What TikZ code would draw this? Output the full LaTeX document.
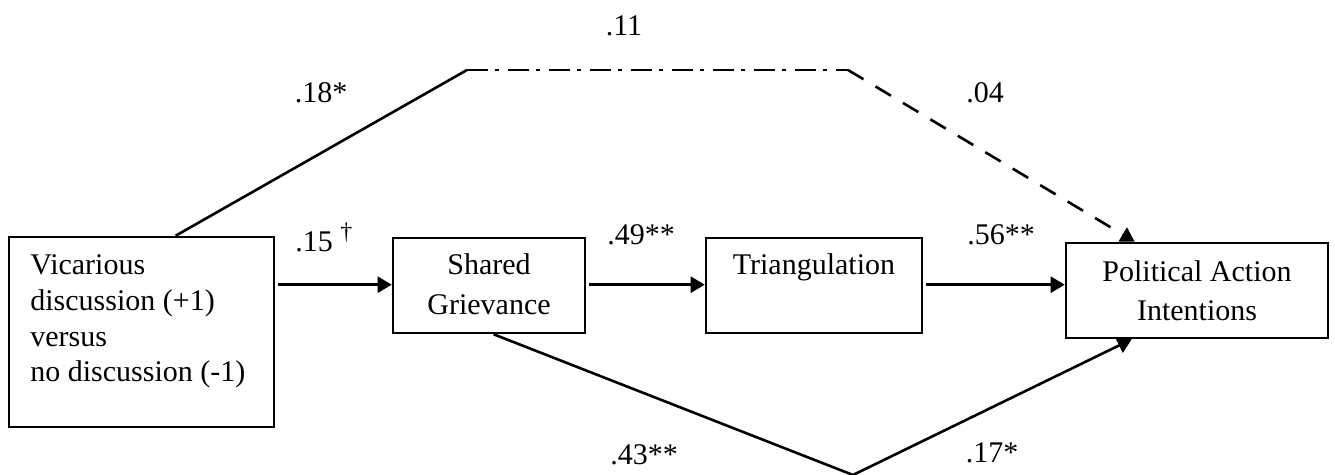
\documentclass[tikz,border=0pt]{standalone}
\usepackage{fontspec}
\setmainfont{Liberation Serif}
\usetikzlibrary{arrows.meta,calc}
\tikzset{
  box/.style={draw, line width=1.3pt, rectangle, inner sep=0pt},
  txt/.style={inner sep=0pt, font=\fontsize{15}{18}\selectfont},
  lbl/.style={inner sep=0pt, anchor=base, font=\fontsize{15}{18}\selectfont},
  conn/.style={line width=1.3pt},
  arr/.style={conn, -{Triangle[length=7pt,width=8pt]}},
  dashdot/.style={dash pattern=on 10.5pt off 3.5pt on 2pt off 4.5pt},
  dashlong/.style={dash pattern=on 9pt off 7pt}
}
\begin{document}
\begin{tikzpicture}[x=0.5pt,y=-0.5pt]
\useasboundingbox (0,0) rectangle (1335,475);
% boxes
\node[box, minimum width=132.5pt, minimum height=95pt] (vic) at (141.5,332) {};
\node[box, minimum width=96pt, minimum height=47.5pt] (sg) at (489,285.5) {};
\node[box, minimum width=108pt, minimum height=47.5pt] (tri) at (814,285.5) {};
\node[box, minimum width=131pt, minimum height=47.5pt] (pai) at (1197,290.5) {};
% box texts
\node[txt, anchor=base west] (vict) at (30,275) {\renewcommand{\arraystretch}{0.99}\begin{tabular}[t]{@{}l@{}}Vicarious\\discussion (+1)\\versus\\no discussion (-1)\end{tabular}};
\node[txt, anchor=base] (sgt) at (489,275) {\renewcommand{\arraystretch}{1.11}\begin{tabular}[t]{@{}c@{}}Shared\\Grievance\end{tabular}};
\node[txt, anchor=base] (trit) at (814,275) {Triangulation};
\node[txt, anchor=base] (pait) at (1197,282) {\renewcommand{\arraystretch}{1.06}\begin{tabular}[t]{@{}c@{}}Political Action\\Intentions\end{tabular}};
% path coordinates
\coordinate (t1) at (467,70);
\coordinate (t2) at (848,70);
\coordinate (v) at (853,475);
% top path
\draw[conn] ($(vic.north west)+(168,0)$) -- (t1);
\draw[conn, dashdot] (t1) -- (t2);
\draw[arr, dashlong] (t2) -- ($(pai.north west)+(70,0)$);
% main chain
\draw[arr] ($(vic.north east)+(3,49)$) -- ($(sg.north west)+(0,48)$);
\draw[arr] ($(sg.north east)+(3,48)$) -- ($(tri.north west)+(0,48)$);
\draw[arr] ($(tri.north east)+(3,48)$) -- ($(pai.north west)+(0,43)$);
% bottom path
\draw[conn] ($(sg.south west)+(102,0)$) -- (v);
\draw[arr] (v) -- ($(pai.south west)+(67,0)$);
% labels
\node[lbl] (l11) at (624,36) {.11};
\node[lbl] (l18) at (321,103) {.18*};
\node[lbl] (l04) at (985,103) {.04};
\node[lbl, anchor=base west] (l15) at (295,252) {.15 \raisebox{6pt}{\fontsize{12}{12}\selectfont †}};
\node[lbl] (l49) at (641,245) {.49**};
\node[lbl] (l56) at (1001,245) {.56**};
\node[lbl] (l43) at (644,465) {.43**};
\node[lbl] (l17) at (992,463) {.17*};
\end{tikzpicture}
\end{document}
